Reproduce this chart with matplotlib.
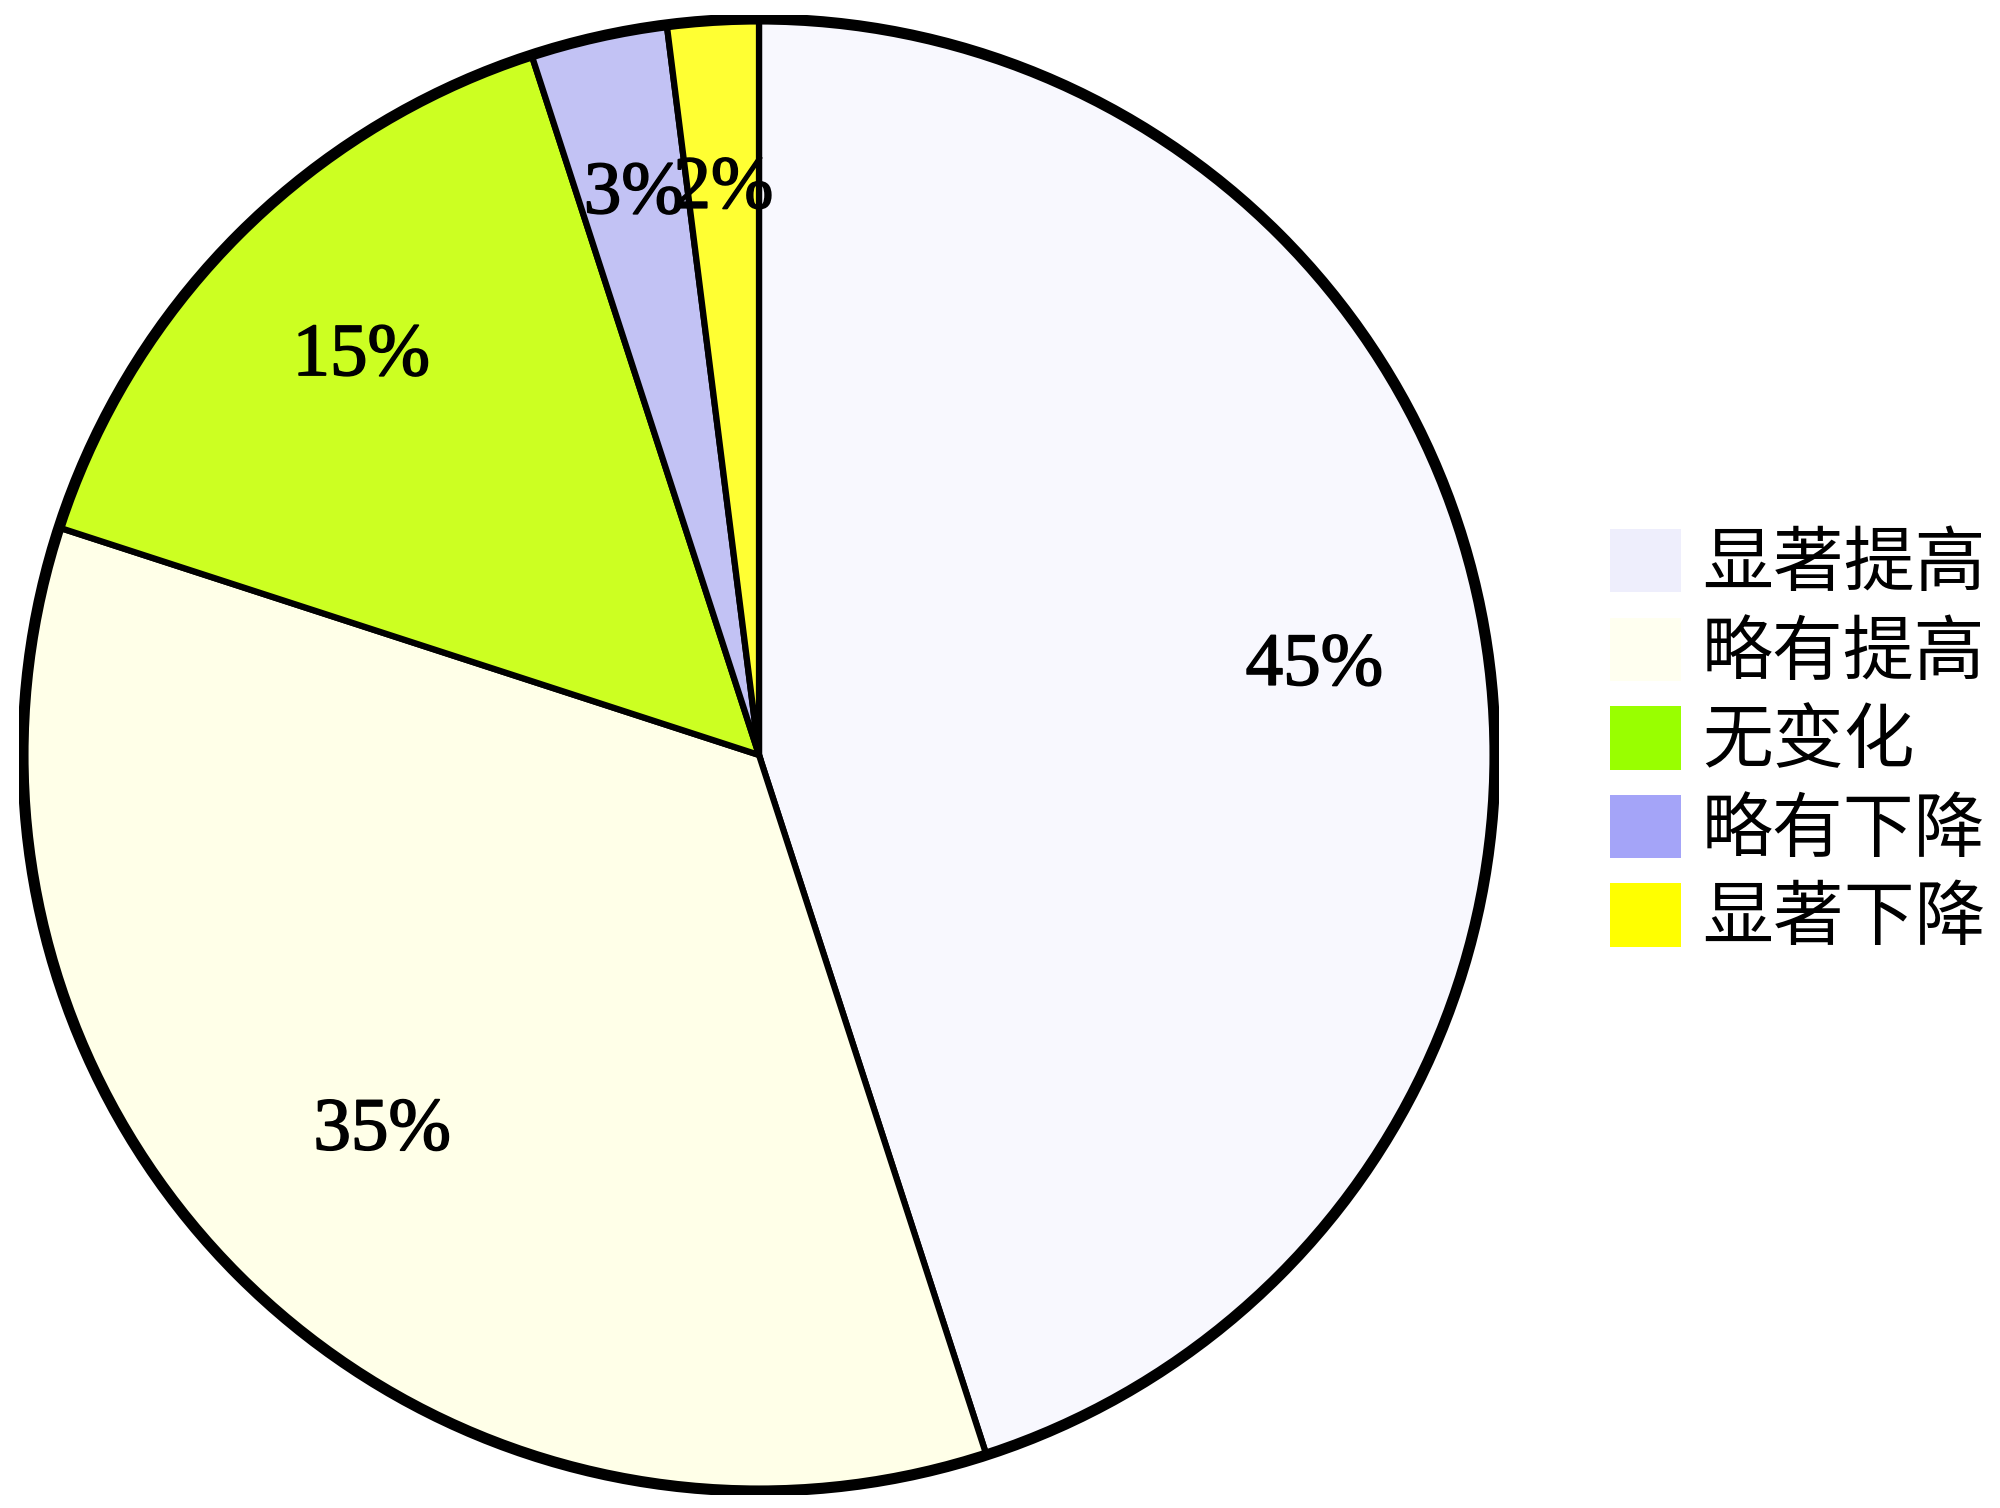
import numpy as np
import matplotlib
matplotlib.use('Agg')
import matplotlib.pyplot as plt
import matplotlib.patheffects as pe
from matplotlib.patches import Circle, Patch

labels = ['显著提高', '略有提高', '无变化', '略有下降', '显著下降']
shares = [45, 35, 15, 3, 2]
slice_colors = ['#f8f8fe', '#ffffe8', '#ccff22', '#c2c2f4', '#ffff33']
legend_colors = ['#eeeefc', '#fffff0', '#99ff00', '#a4a4f8', '#ffff00']
label_dist = [0.76, 0.72, 0.76, 0.775, 0.765]

plt.rcParams['font.family'] = ['Noto Sans CJK SC', 'DejaVu Sans']

fig = plt.figure(figsize=(20, 15.08), dpi=100)

# pie axes: centre at (759, 755) px, radius ~736 px
box = 740
ax = fig.add_axes([(759 - box) / 2000, (1508 - 755 - box) / 1508,
                   2 * box / 2000, 2 * box / 1508])
radius = 736 / box
wedges, texts, autotexts = ax.pie(
    shares, colors=slice_colors, startangle=90, counterclock=False,
    radius=radius, autopct='%d%%', pctdistance=0.76 / radius,
    wedgeprops={'edgecolor': 'black', 'linewidth': 4.5},
    textprops={'family': 'Liberation Serif', 'fontsize': 54, 'color': 'black'})

# nudge the percent labels to where they sit in the original
for w, t, d in zip(wedges, autotexts, label_dist):
    mid = np.deg2rad((w.theta1 + w.theta2) / 2)
    t.set_position((d * np.cos(mid), d * np.sin(mid)))
    t.set_path_effects([pe.withStroke(linewidth=1.2, foreground='black')])

ax.add_patch(Circle((0, 0), radius, fill=False, edgecolor='black',
                    linewidth=8, zorder=5))
ax.set_xlim(-1, 1)
ax.set_ylim(-1, 1)
ax.set_aspect('equal')
ax.axis('off')

handles = [Patch(facecolor=c, edgecolor='none') for c in legend_colors]
fig.legend(handles, labels, loc='upper left',
           bbox_to_anchor=(1610 / 2000, 1 - 528 / 1508),
           frameon=False, fontsize=51, borderpad=0, borderaxespad=0,
           handlelength=1.0, handleheight=1.0, handletextpad=0.3,
           labelspacing=0.22)

fig.savefig('out.png', dpi=100, facecolor='white')
